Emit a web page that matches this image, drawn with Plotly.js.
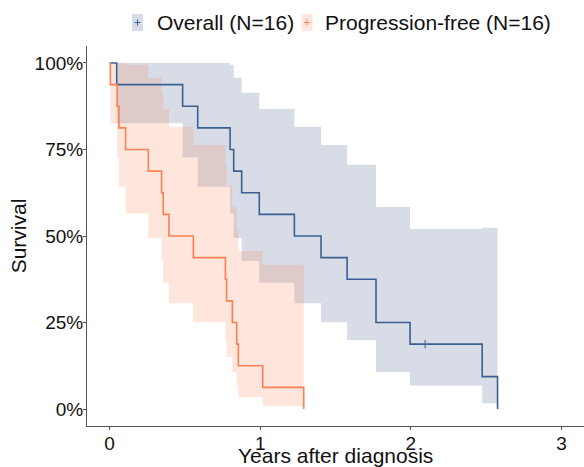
<!DOCTYPE html>
<html>
<head>
<meta charset="utf-8">
<script src="https://cdn.plot.ly/plotly-3.0.1.min.js"></script>
<style>html,body{margin:0;padding:0;background:#fff;}#chart{width:584px;height:467px;}</style>
</head>
<body>
<div id="chart"></div>
<script>
// ---- Overall survival (N=16) ----
const overallTimes = [0, 0.047, 0.485, 0.585, 0.80, 0.824, 0.877, 0.994, 1.227, 1.404, 1.577, 1.769, 1.995, 2.474];
const overallSurv  = [100, 93.75, 87.5, 81.25, 75, 68.75, 62.5, 56.25, 50, 43.75, 37.5, 25, 18.75, 9.375];
const overallUpper = [100, 100, 100, 100, 99.5, 95.7, 91.4, 86.7, 81.6, 76.3, 70.6, 58.4, 52.0, 52.4];
const overallLower = [100, 82.6, 72.7, 64.2, 56.5, 49.4, 42.8, 36.5, 30.6, 25.1, 19.9, 10.7, 6.8, 1.7];
const overallEnd = 2.576;
const overallCensorTimes = [2.095];
const overallCensorSurv = [18.75];

// ---- Progression-free survival (N=16) ----
const pfsTimes = [0, 0.005, 0.05, 0.062, 0.106, 0.257, 0.345, 0.356, 0.394, 0.556, 0.769, 0.777, 0.815, 0.844, 0.855, 1.017];
const pfsSurv  = [100, 93.75, 87.5, 81.25, 75, 68.75, 62.5, 56.25, 50, 43.75, 37.5, 31.25, 25, 18.75, 12.5, 6.25];
const pfsUpper = [100, 100, 100, 100, 99.5, 95.7, 91.4, 86.7, 81.6, 76.3, 70.6, 64.6, 58.4, 52.0, 45.7, 41.7];
const pfsLower = [100, 82.6, 72.7, 64.2, 56.5, 49.4, 42.8, 36.5, 30.6, 25.1, 19.9, 15.1, 10.7, 6.8, 3.4, 0.9];
const pfsEnd = 1.289;

const legendLabels = ["Overall (N=16)", "Progression-free (N=16)"];
const xTitle = "Years after diagnosis";
const yTitle = "Survival";
const xTickVals = [0, 1, 2, 3];
const yTickVals = [0, 25, 50, 75, 100];
const yTickText = ["0%", "25%", "50%", "75%", "100%"];

const blueLine = "#3a6091";
const blueFill = "rgba(60,80,130,0.2)";
const orangeLine = "#fc8052";
const orangeFill = "rgba(252,128,80,0.2)";

function stepBand(times, upper, lower, end) {
  const xs = [], ys = [];
  for (let i = 0; i < times.length; i++) {
    const nx = i + 1 < times.length ? times[i + 1] : end;
    xs.push(times[i], nx); ys.push(upper[i], upper[i]);
  }
  for (let i = times.length - 1; i >= 0; i--) {
    const nx = i + 1 < times.length ? times[i + 1] : end;
    xs.push(nx, times[i]); ys.push(lower[i], lower[i]);
  }
  return {xs, ys};
}

const ob = stepBand(overallTimes, overallUpper, overallLower, overallEnd);
const pb = stepBand(pfsTimes, pfsUpper, pfsLower, pfsEnd);

const traces = [
  {x: ob.xs, y: ob.ys, type: "scatter", mode: "lines", fill: "toself", fillcolor: blueFill,
   line: {width: 0}, hoverinfo: "skip", showlegend: false},
  {x: pb.xs, y: pb.ys, type: "scatter", mode: "lines", fill: "toself", fillcolor: orangeFill,
   line: {width: 0}, hoverinfo: "skip", showlegend: false},
  {x: overallTimes.concat([overallEnd]), y: overallSurv.concat([0]), type: "scatter", mode: "lines",
   line: {color: blueLine, width: 1.6, shape: "hv"}, showlegend: false},
  {x: pfsTimes.concat([pfsEnd]), y: pfsSurv.concat([0]), type: "scatter", mode: "lines",
   line: {color: orangeLine, width: 1.6, shape: "hv"}, showlegend: false},
  {x: overallCensorTimes, y: overallCensorSurv, type: "scatter", mode: "markers",
   marker: {symbol: "line-ns", size: 6, line: {color: blueLine, width: 1}}, showlegend: false}
];

// margins / mapping for manual legend and x title
const W = 584, H = 467, mL = 87, mR = 0, mT = 46, mB = 41;
const pw = W - mL - mR, ph = H - mT - mB;
const px2x = p => (p - mL) / pw;
const py2y = p => (H - mB - p) / ph;

const shapes = [];
const annotations = [];
const keys = [
  {x0: 132, x1: 143, fill: blueFill, line: blueLine, tx: 154.5, label: legendLabels[0]},
  {x0: 301.5, x1: 312.5, fill: orangeFill, line: orangeLine, tx: 323, label: legendLabels[1]}
];
keys.forEach(k => {
  shapes.push({type: "rect", xref: "paper", yref: "paper", x0: px2x(k.x0), x1: px2x(k.x1),
    y0: py2y(31), y1: py2y(14), fillcolor: k.fill, line: {width: 0}, layer: "above"});
  const cx = (k.x0 + k.x1) / 2, cy = 22.5;
  shapes.push({type: "line", xref: "paper", yref: "paper", x0: px2x(cx - 3), x1: px2x(cx + 3),
    y0: py2y(cy), y1: py2y(cy), line: {color: k.line, width: 1}});
  shapes.push({type: "line", xref: "paper", yref: "paper", x0: px2x(cx), x1: px2x(cx),
    y0: py2y(cy - 3), y1: py2y(cy + 3), line: {color: k.line, width: 1}});
  annotations.push({xref: "paper", yref: "paper", x: px2x(k.tx), y: py2y(23), xanchor: "left",
    yanchor: "middle", text: k.label, showarrow: false,
    font: {family: "Liberation Sans, Arial, sans-serif", size: 21, color: "#111"}});
});
// x-axis title placed explicitly just under the tick labels
annotations.push({xref: "paper", yref: "paper", x: 0.5, y: py2y(443), xanchor: "center",
  yanchor: "top", text: xTitle, showarrow: false, borderpad: 0,
  font: {family: "Liberation Sans, Arial, sans-serif", size: 21, color: "#111"}});

const layout = {
  width: W, height: H,
  margin: {l: mL, r: mR, t: mT, b: mB, pad: 0},
  paper_bgcolor: "#fff", plot_bgcolor: "#fff",
  font: {family: "Liberation Sans, Arial, sans-serif", size: 19, color: "#111"},
  showlegend: false,
  xaxis: {range: [-0.15, 3.15], tickvals: xTickVals, ticktext: xTickVals.map(String),
    showgrid: false, zeroline: false, showline: true, linecolor: "#555", linewidth: 1,
    ticks: "outside", ticklen: 3, tickcolor: "#555", tickfont: {size: 19, color: "#111"},
    ticklabelstandoff: -3,
    automargin: false},
  yaxis: {range: [-4.9, 104.9], tickvals: yTickVals, ticktext: yTickText,
    showgrid: false, zeroline: false, showline: true, linecolor: "#555", linewidth: 1,
    ticks: "outside", ticklen: 3, tickcolor: "#555", tickfont: {size: 19, color: "#111"},
    ticklabelstandoff: -4,
    title: {text: yTitle, font: {size: 21, color: "#111"}, standoff: 2},
    automargin: false},
  shapes: shapes,
  annotations: annotations
};

Plotly.newPlot("chart", traces, layout, {displayModeBar: false, staticPlot: true});
</script>
</body>
</html>
